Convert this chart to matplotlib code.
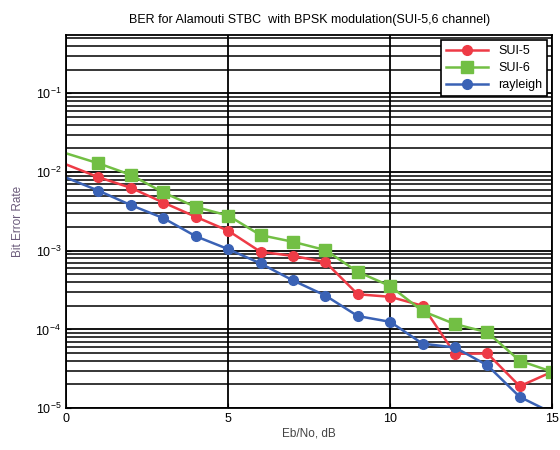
import numpy as np
import matplotlib
matplotlib.use("Agg")
import matplotlib.pyplot as plt
from matplotlib.ticker import LogLocator, NullFormatter

plt.rcParams['font.family'] = ['Liberation Sans', 'DejaVu Sans']

ebno = np.arange(0, 16)
sui5 = [0.0125, 0.0086, 0.0063, 0.0041, 0.0027, 0.0018, 0.00097, 0.00086,
        0.00072, 0.00028, 0.00026, 0.00020, 4.9e-5, 4.95e-5, 1.9e-5, 2.9e-5]
sui6 = [0.0173, 0.0129, 0.0092, 0.0055, 0.0036, 0.0028, 0.00158, 0.0013,
        0.00102, 0.00054, 0.000356, 0.000171, 0.000117, 9.2e-5, 4.0e-5, 2.9e-5]
rayleigh = [0.0085, 0.0058, 0.0038, 0.0026, 0.00153, 0.00105, 0.00069, 0.00042,
            0.00027, 0.000148, 0.000125, 6.6e-5, 5.9e-5, 3.5e-5, 1.39e-5, 8.7e-6]
xticks = [0, 5, 10, 15]

fig = plt.figure(figsize=(5.6, 4.5), dpi=100)
ax = fig.add_axes([0.118, 0.093, 0.868, 0.829])

mk = dict(markevery=slice(1, None), linewidth=1.8)
ax.semilogy(ebno, sui5, '-o', color='#ee3b46', markersize=7, label='SUI-5', **mk)
ax.semilogy(ebno, sui6, '-s', color='#72bf44', markersize=8, label='SUI-6', **mk)
ax.semilogy(ebno, rayleigh, '-o', color='#3a62b5', markersize=7, label='rayleigh', **mk)

ax.set_xlim(0, 15)
ax.set_ylim(1e-5, 0.55)
ax.set_xticks(xticks)
ax.yaxis.set_major_locator(LogLocator(base=10, numticks=10))
ax.yaxis.set_minor_locator(LogLocator(base=10, subs=np.arange(2, 10), numticks=20))
ax.yaxis.set_minor_formatter(NullFormatter())

ax.grid(True, which='major', color='black', linewidth=1.3)
ax.grid(True, which='minor', axis='y', color='black', linewidth=1.1)
ax.set_axisbelow(True)
for s in ax.spines.values():
    s.set_color('black')
    s.set_linewidth(1.3)
ax.tick_params(which='both', direction='in', labelsize=9, colors='black')
ax.tick_params(which='minor', length=0)

ax.set_title('BER for Alamouti STBC  with BPSK modulation(SUI-5,6 channel)',
             fontsize=9, pad=9)
ax.set_xlabel('Eb/No, dB', fontsize=8.5, color='#444444', labelpad=2)
ax.set_ylabel('Bit Error Rate', fontsize=8.5, color='#6a5a7a', labelpad=8)

leg = ax.legend(loc='upper right', fontsize=9, fancybox=False, framealpha=1,
                edgecolor='black', borderaxespad=0.4, handlelength=3.4,
                borderpad=0.4, labelspacing=0.4)
leg.get_frame().set_linewidth(1.2)

fig.savefig('out.png', dpi=100)
